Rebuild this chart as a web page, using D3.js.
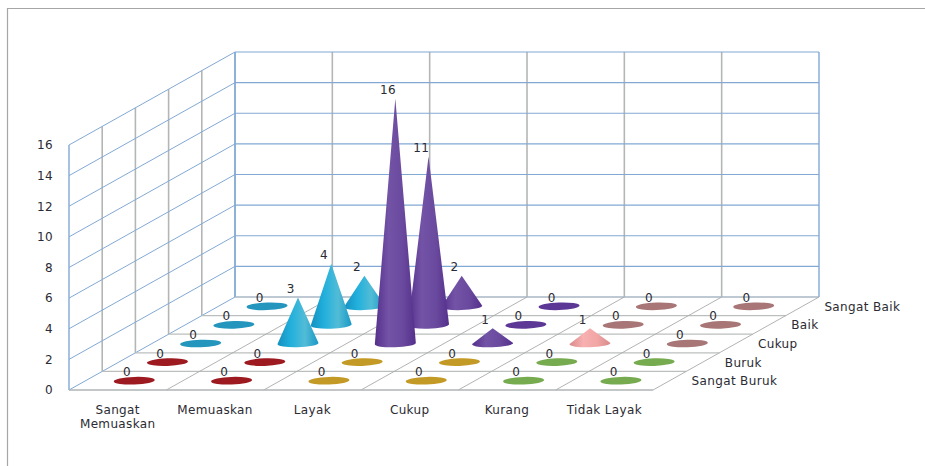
<!DOCTYPE html>
<html>
<head>
<meta charset="utf-8">
<script src="https://cdn.jsdelivr.net/npm/d3@7/dist/d3.min.js"></script>
<style>
  html, body { margin: 0; padding: 0; background: #fff; }
  text { font-family: "DejaVu Sans", sans-serif; font-size: 12px; letter-spacing: 0.35px; fill: #2b2b33; }
</style>
</head>
<body>
<svg id="chart" width="925" height="466"></svg>
<script>
// Survey answers: six assessment levels across, five ratings in depth.
const categories = ["Sangat Memuaskan", "Memuaskan", "Layak", "Cukup", "Kurang", "Tidak Layak"];
const ratings = ["Sangat Buruk", "Buruk", "Cukup", "Baik", "Sangat Baik"];
const sangatBuruk = [0, 0, 0, 0, 0, 0];
const buruk = [0, 0, 0, 0, 0, 0];
const cukup = [0, 3, 16, 1, 1, 0];
const baik = [0, 4, 11, 0, 0, 0];
const sangatBaik = [0, 2, 2, 0, 0, 0];
const seriesValues = [sangatBuruk, buruk, cukup, baik, sangatBaik];
const valueTicks = [0, 2, 4, 6, 8, 10, 12, 14, 16];

// Colour family per rating row and category column.
const lowerRowColors = ["red", "red", "gold", "gold", "green", "green"];
const upperRowColors = ["blue", "cyan", "purple", "purple", "rose", "rose"];
const palette = {
  red:    { flat: "#9c1a20", stops: ["#8a141b", "#b0262c", "#8a141b"] },
  gold:   { flat: "#c49a26", stops: ["#b08820", "#d0a830", "#b08820"] },
  green:  { flat: "#76ab50", stops: ["#689a46", "#86b860", "#689a46"] },
  blue:   { flat: "#2496be", stops: ["#1c88ae", "#30a4cc", "#1c88ae"] },
  cyan:   { flat: "#22a6d2", stops: ["#1590c0", "#22b0dc", "#52bcd6", "#1a98c6"] },
  purple: { flat: "#5c3796", stops: ["#55308c", "#7353a6", "#6a4a9e", "#55308c"] },
  rose:   { flat: "#a87676", stops: ["#d88a8a", "#f8b0b0", "#f2a6a6", "#d88a8a"] }
};

const svg = d3.select("#chart");

// Oblique projection: column offset, depth offset and value height.
const origin = { x: 69, y: 390 };
const depthShift = { x: 166, y: -93 };
const columnBand = d3.scaleBand().domain(categories).range([0, 584]);
const depthBand = d3.scaleBand().domain(ratings).range([0, 1]);
const valueScale = d3.scaleLinear().domain([0, 16]).range([origin.y, 145]);
const lift = v => valueScale(v) - origin.y;

const project = (colOffset, depthFrac, value) => ({
  x: origin.x + colOffset + depthFrac * depthShift.x,
  y: origin.y + depthFrac * depthShift.y + lift(value)
});
const linePath = (g, a, b, stroke, width) => g.append("line")
  .attr("x1", a.x).attr("y1", a.y).attr("x2", b.x).attr("y2", b.y)
  .attr("stroke", stroke).attr("stroke-width", width);

const blueGrid = "#82a9d4";
const greyGrid = "#b4b6b6";
const plotWidth = columnBand.range()[1];

// Outer chart frame, open to the window edges on the right and bottom.
svg.append("path")
  .attr("d", "M7.5,466V8.5H925")
  .attr("fill", "none").attr("stroke", "#a6a6a6").attr("stroke-width", 1.2);

const defs = svg.append("defs");
Object.entries(palette).forEach(([name, c]) => {
  const grad = defs.append("linearGradient").attr("id", "cone-" + name);
  c.stops.forEach((s, i) => grad.append("stop")
    .attr("offset", i / (c.stops.length - 1)).attr("stop-color", s));
});

// Walls: grey depth/column rules first, blue value rules over them.
const walls = svg.append("g");
categories.slice(1).forEach(c => {
  const off = columnBand(c);
  linePath(walls, project(off, 1, 0), project(off, 1, 16), greyGrid, 1.6);
});
ratings.slice(1).forEach(r => {
  const f = depthBand(r);
  linePath(walls, project(0, f, 0), project(0, f, 16), greyGrid, 1.6);
});
valueTicks.forEach(v => {
  linePath(walls, project(0, 0, v), project(0, 1, v), blueGrid, 1);
  linePath(walls, project(0, 1, v), project(plotWidth, 1, v), blueGrid, 1.2);
});
linePath(walls, project(0, 0, 0), project(0, 0, 16), blueGrid, 1.4);
linePath(walls, project(0, 1, 0), project(0, 1, 16), blueGrid, 1.8);
linePath(walls, project(plotWidth, 1, 0), project(plotWidth, 1, 16), blueGrid, 1.4);

// Floor grid.
const floor = svg.append("g");
ratings.slice(1).concat([null]).forEach(r => {
  const f = r === null ? 1 : depthBand(r);
  linePath(floor, project(0, f, 0), project(plotWidth, f, 0), "#bcbebe", 1.2);
});
categories.slice(1).concat([null]).forEach(c => {
  const off = c === null ? plotWidth : columnBand(c);
  linePath(floor, project(off, 0, 0), project(off, 1, 0), "#a8aaaa", 0.9);
});
linePath(floor, project(0, 0, 0), project(plotWidth, 0, 0), "#b0b4b6", 1.6);

// Cones, painted from the back row forward so nearer ones overlap.
const coneRadiusX = 20.5, coneRadiusY = 3.8;
const marks = svg.append("g");
const labels = [];
ratings.map((r, i) => i).reverse().forEach(ri => {
  const rating = ratings[ri];
  const depthMid = depthBand(rating) + depthBand.bandwidth() / 2;
  categories.forEach((cat, ci) => {
    const value = seriesValues[ri][ci];
    const familyName = (ri < 2 ? lowerRowColors : upperRowColors)[ci];
    const base = project(columnBand(cat) + columnBand.bandwidth() / 2, depthMid, 0);
    const apex = project(columnBand(cat) + columnBand.bandwidth() / 2, depthMid, value);
    if (value === 0) {
      marks.append("ellipse")
        .attr("cx", base.x).attr("cy", base.y)
        .attr("rx", coneRadiusX).attr("ry", coneRadiusY)
        .attr("transform", `rotate(-2 ${base.x} ${base.y})`)
        .attr("fill", palette[familyName].flat);
    } else {
      marks.append("path")
        .attr("d", `M${apex.x},${apex.y}L${base.x + coneRadiusX},${base.y - 0.6}` +
          `A${coneRadiusX},${coneRadiusY} -2 0 1 ${base.x - coneRadiusX},${base.y + 0.6}Z`)
        .attr("fill", `url(#cone-${familyName})`);
    }
    labels.push({ value, x: apex.x - 7.3, y: apex.y - 4.5 });
  });
});

// Value labels sit beside each tip.
svg.append("g").selectAll("text").data(labels).join("text")
  .attr("x", d => d.x).attr("y", d => d.y)
  .attr("text-anchor", "middle")
  .text(d => d.value);

// Value axis.
svg.append("g")
  .attr("transform", `translate(${origin.x},0)`)
  .call(d3.axisLeft(valueScale).tickValues(valueTicks).tickSize(0).tickPadding(16).tickFormat(d3.format("d")))
  .call(g => g.select(".domain").remove())
  .call(g => g.selectAll("text").style("font-size", "12px").style("font-family", '"DejaVu Sans", sans-serif'));

// Column names along the front edge; the first one wraps.
const columnLines = ["Sangat|Memuaskan", "Memuaskan", "Layak", "Cukup", "Kurang", "Tidak Layak"];
const colLabels = svg.append("g").selectAll("text").data(categories).join("text")
  .attr("text-anchor", "middle")
  .attr("transform", d => `translate(${origin.x + columnBand(d) + columnBand.bandwidth() / 2},413.5)`);
colLabels.each(function (d, i) {
  columnLines[i].split("|").forEach((part, k) => {
    d3.select(this).append("tspan").attr("x", 0).attr("dy", k ? 14.5 : 0).text(part);
  });
});

// Rating names along the right floor edge.
svg.append("g").selectAll("text").data(ratings).join("text")
  .attr("x", d => project(plotWidth, depthBand(d) + depthBand.bandwidth() / 2, 0).x + 22)
  .attr("y", d => project(plotWidth, depthBand(d) + depthBand.bandwidth() / 2, 0).y + 4.5)
  .text(d => d);
</script>
</body>
</html>
